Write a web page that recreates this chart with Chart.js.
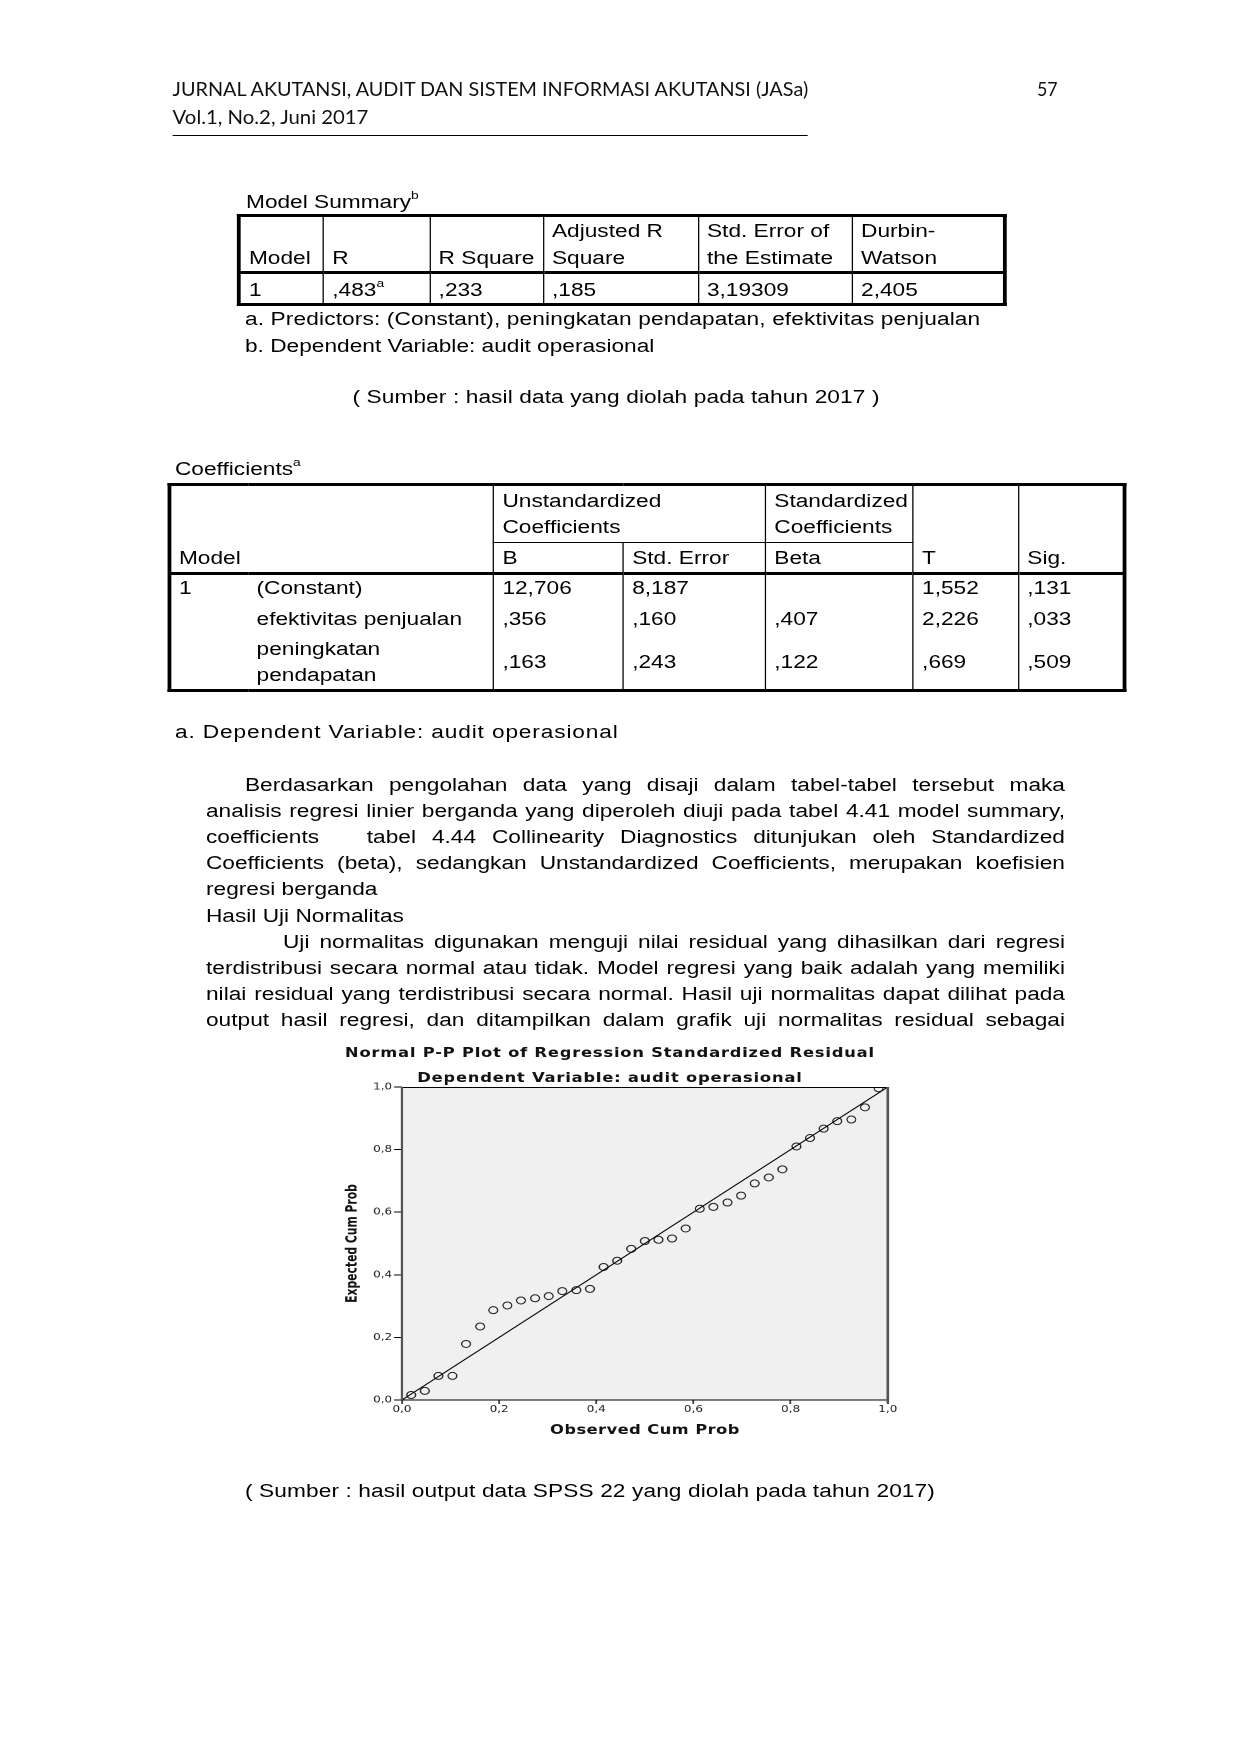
<!DOCTYPE html>
<html>
<head>
<meta charset="utf-8">
<script src="https://cdn.jsdelivr.net/npm/chart.js@4.4.1/dist/chart.umd.min.js"></script>
<style>
  html, body { margin: 0; padding: 0; background: #fff; }
  :root { --k: 1.26; }
  #page {
    position: absolute; left: 0; top: 0;
    width: calc(1240px / var(--k)); height: 1754px;
    transform: scaleX(var(--k)); transform-origin: 0 0;
    font-family: "Liberation Sans", Arial, sans-serif;
    font-size: 18px; line-height: 26.3px; color: #000;
  }
  .t { position: absolute; white-space: nowrap; }
  .hd { font-family: Lato, "Open Sans", sans-serif; font-size: 19.5px; line-height: 24px; color: #111; }
  .fit { display: inline-block; transform-origin: 0 0; }
  .rule { position: absolute; background: #000; height: 1.5px; }
  .pl { position: absolute; }
  .j { text-align: justify; text-align-last: justify; }
  sup.s { font-size: 11px; line-height: 0; position: relative; top: -2px; vertical-align: super; }
  table { border-collapse: collapse; table-layout: fixed; }
  td { padding: 0 0 0 6.5px; white-space: nowrap; overflow: visible; }
  table.ms { border: 3px solid #000; }
  table.ms td { border-left: 1.2px solid #000; }
  table.ms tr.h td { height: 54px; vertical-align: bottom; border-bottom: 3px solid #000; }
  table.ms tr.d td { height: 29px; vertical-align: bottom; }
  table.cf { border: 3px solid #000; }
  table.cf td.vl { border-left: 1.2px solid #000; }
  table.cf td.sub { border-bottom: 1.2px solid #000; vertical-align: top; padding-top: 2px; }
  table.cf td.hb { border-bottom: 3px solid #000; vertical-align: bottom; line-height: 20px; padding-bottom: 4px; }
  table.cf tr.r1 td { height: 54px; }
  table.cf tr.r2 td { height: 25px; }
  table.cf tr.b td { vertical-align: top; padding-top: 0; }
  table.cf tr.b1 td { height: 30.5px; }
  table.cf tr.b2 td { height: 30.5px; }
  table.cf tr.b3 td { height: 49.5px; }
  table.cf tr.b td.mid { vertical-align: middle; padding-top: 0; }
  #chartBox { position: absolute; left: calc(300px / var(--k)); top: 1035px; width: 492px; height: 420px; }
</style>
</head>
<body>
<div id="page">
  <!-- running header -->
  <div class="t hd" style="left:calc(172px / var(--k)); top:76.5px;"><span class="fit" data-w="636">JURNAL AKUTANSI, AUDIT DAN SISTEM INFORMASI AKUTANSI (JASa)</span></div>
  <div class="t hd" style="left:calc(1037px / var(--k)); top:76.5px;"><span class="fit" data-w="21">57</span></div>
  <div class="t hd" style="left:calc(172px / var(--k)); top:104.5px;"><span class="fit" data-w="196">Vol.1, No.2, Juni 2017</span></div>
  <div class="rule" style="left:calc(172px / var(--k)); width:calc(636px / var(--k)); top:134.5px;"></div>

  <!-- model summary -->
  <div class="t" style="left:calc(246px / var(--k)); top:189px;">Model Summary<sup class="s">b</sup></div>
  <div class="t" style="left:calc(237px / var(--k)); top:214px;">
    <table class="ms">
      <colgroup>
        <col style="width:67.1px"><col style="width:84.4px"><col style="width:90px">
        <col style="width:123px"><col style="width:122.3px"><col style="width:121.5px">
      </colgroup>
      <tr class="h">
        <td>Model</td><td>R</td><td>R Square</td><td>Adjusted R<br>Square</td><td>Std. Error of<br>the Estimate</td><td>Durbin-<br>Watson</td>
      </tr>
      <tr class="d">
        <td>1</td><td>,483<sup class="s">a</sup></td><td>,233</td><td>,185</td><td>3,19309</td><td>2,405</td>
      </tr>
    </table>
  </div>
  <div class="t" style="left:calc(245px / var(--k)); top:305.6px; letter-spacing:0.1px;">a. Predictors: (Constant), peningkatan pendapatan, efektivitas penjualan</div>
  <div class="t" style="left:calc(245px / var(--k)); top:332.6px;">b. Dependent Variable: audit operasional</div>
  <div class="t" style="left:0; width:calc(1232px / var(--k)); text-align:center; top:383.6px; letter-spacing:0.08px;">( Sumber : hasil data yang diolah pada tahun 2017 )</div>

  <!-- coefficients -->
  <div class="t" style="left:calc(175px / var(--k)); top:455.6px;">Coefficients<sup class="s">a</sup></div>
  <div class="t" style="left:calc(167px / var(--k)); top:483px;">
    <table class="cf">
      <colgroup>
        <col style="width:63.1px"><col style="width:194.6px"><col style="width:103px">
        <col style="width:112.8px"><col style="width:117.3px"><col style="width:83.5px"><col style="width:84.3px">
      </colgroup>
      <tr class="r1">
        <td colspan="2" rowspan="2" class="hb">Model</td>
        <td colspan="2" class="vl sub">Unstandardized<br>Coefficients</td>
        <td class="vl sub">Standardized<br>Coefficients</td>
        <td rowspan="2" class="vl hb">T</td>
        <td rowspan="2" class="vl hb">Sig.</td>
      </tr>
      <tr class="r2">
        <td class="vl hb">B</td><td class="vl hb">Std. Error</td><td class="vl hb">Beta</td>
      </tr>
      <tr class="b b1">
        <td>1</td><td>(Constant)</td><td class="vl">12,706</td><td class="vl">8,187</td><td class="vl"></td><td class="vl">1,552</td><td class="vl">,131</td>
      </tr>
      <tr class="b b2">
        <td></td><td>efektivitas penjualan</td><td class="vl">,356</td><td class="vl">,160</td><td class="vl">,407</td><td class="vl">2,226</td><td class="vl">,033</td>
      </tr>
      <tr class="b b3">
        <td></td><td>peningkatan<br>pendapatan</td><td class="vl mid">,163</td><td class="vl mid">,243</td><td class="vl mid">,122</td><td class="vl mid">,669</td><td class="vl mid">,509</td>
      </tr>
    </table>
  </div>
  <div class="t" style="left:calc(175px / var(--k)); top:718.6px; letter-spacing:0.68px;">a. Dependent Variable: audit operasional</div>

  <!-- body text -->
  <div class="pl j" style="left:calc(245px / var(--k)); width:calc(820px / var(--k)); top:771.6px;">Berdasarkan pengolahan data yang disaji dalam tabel-tabel tersebut maka</div>
  <div class="pl j" style="left:calc(206px / var(--k)); width:calc(859px / var(--k)); top:797.8px;">analisis regresi linier berganda yang diperoleh diuji pada tabel 4.41 model summary,</div>
  <div class="pl j" style="left:calc(206px / var(--k)); width:calc(859px / var(--k)); top:824px;">coefficients&nbsp;&nbsp; tabel 4.44 Collinearity Diagnostics ditunjukan oleh Standardized</div>
  <div class="pl j" style="left:calc(206px / var(--k)); width:calc(859px / var(--k)); top:850.2px;">Coefficients (beta), sedangkan Unstandardized Coefficients, merupakan koefisien</div>
  <div class="t" style="left:calc(206px / var(--k)); top:876.4px;">regresi berganda</div>
  <div class="t" style="left:calc(206px / var(--k)); top:902.6px;">Hasil Uji Normalitas</div>
  <div class="pl j" style="left:calc(283px / var(--k)); width:calc(782px / var(--k)); top:928.8px;">Uji normalitas digunakan menguji nilai residual yang dihasilkan dari regresi</div>
  <div class="pl j" style="left:calc(206px / var(--k)); width:calc(859px / var(--k)); top:955px;">terdistribusi secara normal atau tidak. Model regresi yang baik adalah yang memiliki</div>
  <div class="pl j" style="left:calc(206px / var(--k)); width:calc(859px / var(--k)); top:981.2px;">nilai residual yang terdistribusi secara normal. Hasil uji normalitas dapat dilihat pada</div>
  <div class="pl j" style="left:calc(206px / var(--k)); width:calc(859px / var(--k)); top:1007.4px;">output hasil regresi, dan ditampilkan dalam grafik uji normalitas residual sebagai</div>

  <div id="chartBox"><canvas id="ppChart" width="492" height="420"></canvas></div>

  <div class="t" style="left:calc(245px / var(--k)); top:1477.6px; letter-spacing:0.08px;">( Sumber : hasil output data SPSS 22 yang diolah pada tahun 2017)</div>
</div>

<script>
// P-P plot values
const observedCumProb = [0.019, 0.047, 0.075, 0.104, 0.132, 0.161, 0.188, 0.217, 0.245, 0.274,
  0.302, 0.330, 0.359, 0.387, 0.415, 0.443, 0.472, 0.500, 0.528, 0.556,
  0.584, 0.613, 0.641, 0.670, 0.698, 0.726, 0.755, 0.783, 0.812, 0.840,
  0.868, 0.896, 0.925, 0.953, 0.981];
const expectedCumProb = [0.016, 0.029, 0.077, 0.077, 0.179, 0.235, 0.287, 0.302, 0.318, 0.325,
  0.332, 0.348, 0.351, 0.355, 0.425, 0.445, 0.483, 0.508, 0.512, 0.516,
  0.548, 0.611, 0.617, 0.631, 0.653, 0.692, 0.711, 0.737, 0.810, 0.837,
  0.867, 0.891, 0.896, 0.935, 0.996];
const refLineX = [0, 1];
const refLineY = [0, 1];
const tickStep = 0.2;

const chartTitle = "Normal P-P Plot of Regression Standardized Residual";
const chartSubtitle = "Dependent Variable: audit operasional";
const xTitle = "Observed Cum Prob";
const yTitle = "Expected Cum Prob";

// stretch header text to the width it has on the page
function fitHeader() {
  const k = 1.26;
  document.querySelectorAll(".fit").forEach(el => {
    const target = Number(el.dataset.w) / k;
    el.style.transform = "scaleX(" + (target / el.offsetWidth) + ")";
  });
}
fitHeader();

function commaTick(v) {
  return Number(v).toFixed(1).replace(".", ",");
}

const ppFrame = {
  id: "ppFrame",
  beforeDraw(chart) {
    const { ctx, chartArea: a } = chart;
    ctx.save();
    ctx.fillStyle = "#f0f0f0";
    ctx.fillRect(a.left, a.top, a.right - a.left, a.bottom - a.top);
    ctx.restore();
  },
  afterDraw(chart) {
    const { ctx, chartArea: a, width } = chart;
    ctx.save();
    ctx.strokeStyle = "#000";
    ctx.lineWidth = 1;
    ctx.beginPath();
    ctx.moveTo(a.left, a.top + 0.5);
    ctx.lineTo(a.right, a.top + 0.5);
    ctx.moveTo(a.left, a.bottom);
    ctx.lineTo(a.right, a.bottom);
    ctx.stroke();
    ctx.strokeStyle = "#555";
    ctx.lineWidth = 2;
    ctx.beginPath();
    ctx.moveTo(a.left, a.top);
    ctx.lineTo(a.left, a.bottom);
    ctx.moveTo(a.right, a.top);
    ctx.lineTo(a.right, a.bottom + 3);
    ctx.stroke();

    ctx.fillStyle = "#111";
    ctx.textAlign = "center";
    ctx.textBaseline = "alphabetic";
    ctx.letterSpacing = "0.6px";
    ctx.font = 'bold 13px "DejaVu Sans"';
    ctx.fillText(chartTitle, width / 2, 22);
    ctx.fillText(chartSubtitle, width / 2, 47);
    ctx.letterSpacing = "0.3px";
    ctx.fillText(xTitle, (a.left + a.right) / 2, 399);

    ctx.letterSpacing = "0px";
    ctx.translate(45, (a.top + a.bottom) / 2);
    ctx.rotate(-Math.PI / 2);
    ctx.font = 'bold 12px "Liberation Sans Narrow", "DejaVu Sans Condensed", sans-serif';
    ctx.fillText(yTitle, 0, 0);
    ctx.restore();
  }
};

const tickFont = { family: "DejaVu Sans", size: 9.5 };

new Chart(document.getElementById("ppChart"), {
  type: "scatter",
  data: {
    datasets: [
      {
        data: refLineX.map((x, i) => ({ x: x, y: refLineY[i] })),
        showLine: true,
        borderColor: "#000",
        borderWidth: 1,
        pointRadius: 0
      },
      {
        data: observedCumProb.map((x, i) => ({ x: x, y: expectedCumProb[i] })),
        pointStyle: "circle",
        pointRadius: 3.5,
        borderWidth: 1,
        borderColor: "#222",
        backgroundColor: "rgba(0,0,0,0)"
      }
    ]
  },
  options: {
    responsive: false,
    animation: false,
    devicePixelRatio: 2,
    layout: { padding: { top: 52, left: 0, right: 25.4, bottom: 0 } },
    plugins: { legend: { display: false }, tooltip: { enabled: false } },
    scales: {
      x: {
        type: "linear", min: 0, max: 1,
        ticks: { stepSize: tickStep, callback: commaTick, font: tickFont, color: "#222", padding: 0, maxRotation: 0 },
        grid: { drawOnChartArea: false, drawTicks: true, tickLength: 4, color: "#444", lineWidth: 1.5 },
        border: { display: false },
        afterFit(s) { s.height = 55; }
      },
      y: {
        type: "linear", min: 0, max: 1,
        ticks: { stepSize: tickStep, callback: commaTick, font: tickFont, color: "#222", padding: 1.5 },
        grid: { drawOnChartArea: false, drawTicks: true, tickLength: 6.3, color: "#000", lineWidth: 1 },
        border: { display: false },
        afterFit(s) { s.width = 81; }
      }
    }
  },
  plugins: [ppFrame]
});
</script>
</body>
</html>
